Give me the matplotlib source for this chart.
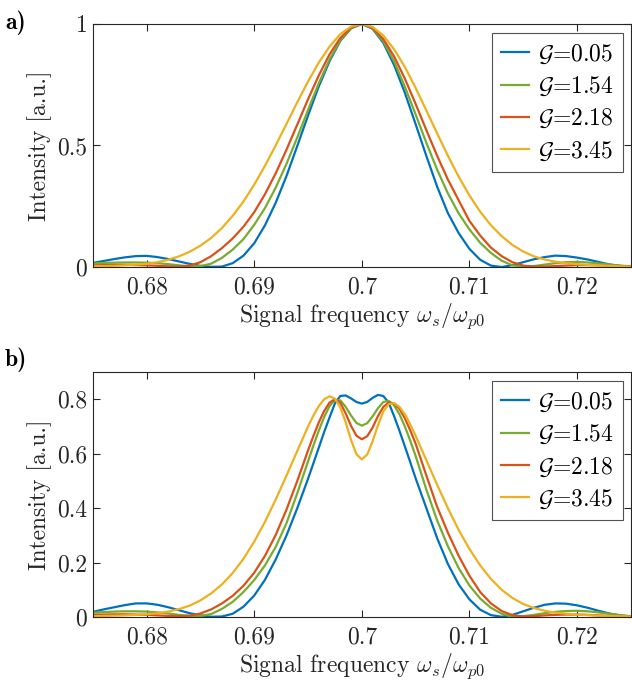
import numpy as np
import matplotlib
matplotlib.use("Agg")
import matplotlib.pyplot as plt

plt.rcParams['font.family'] = 'serif'
plt.rcParams['font.serif'] = ['cmr10']
plt.rcParams['mathtext.fontset'] = 'cm'
plt.rcParams['axes.unicode_minus'] = False

# legend labels and MATLAB default colours
gains = ['0.05', '1.54', '2.18', '3.45']
colors = ['#0072BD', '#77AC30', '#D95319', '#EDB120']

# panel a) frequency grid (omega_s / omega_p0)
freq_a = np.round(np.arange(0.675, 0.72501, 0.001), 4)

blue_a = [0.017, 0.025, 0.033, 0.040, 0.045, 0.046, 0.041, 0.033, 0.023, 0.013,
          0.005, 0.001, 0.002, 0.016, 0.047, 0.098, 0.172, 0.265, 0.375, 0.498,
          0.623, 0.743, 0.847, 0.930, 0.982, 1.0,
          0.980, 0.922, 0.831, 0.717, 0.588, 0.457, 0.331, 0.222, 0.140, 0.075,
          0.030, 0.006, 0.000, 0.008, 0.020, 0.032, 0.041, 0.047, 0.045, 0.039,
          0.031, 0.021, 0.011, 0.005, 0.001]
green_a = [0.015, 0.017, 0.018, 0.019, 0.019, 0.018, 0.016, 0.012, 0.007, 0.003,
           0.004, 0.014, 0.038, 0.072, 0.115, 0.174, 0.243, 0.327, 0.425, 0.533,
           0.646, 0.756, 0.854, 0.932, 0.983, 1.0,
           0.982, 0.928, 0.846, 0.742, 0.628, 0.511, 0.401, 0.303, 0.221, 0.155,
           0.100, 0.058, 0.026, 0.007, 0.001, 0.004, 0.010, 0.016, 0.020, 0.021,
           0.019, 0.015, 0.010, 0.006, 0.003]
red_a = [0.007, 0.008, 0.009, 0.009, 0.008, 0.007, 0.005, 0.003, 0.002, 0.006,
         0.020, 0.045, 0.078, 0.118, 0.166, 0.226, 0.300, 0.386, 0.483, 0.586,
         0.690, 0.788, 0.875, 0.942, 0.985, 1.0,
         0.984, 0.938, 0.866, 0.775, 0.671, 0.563, 0.458, 0.360, 0.275, 0.190,
         0.130, 0.080, 0.045, 0.020, 0.006, 0.002, 0.002, 0.004, 0.006, 0.008,
         0.008, 0.007, 0.005, 0.004, 0.003]
yellow_a = [0.003, 0.004, 0.005, 0.007, 0.010, 0.013, 0.020, 0.030, 0.044, 0.063,
            0.088, 0.120, 0.161, 0.211, 0.270, 0.339, 0.417, 0.501, 0.589, 0.678,
            0.763, 0.841, 0.907, 0.958, 0.989, 1.0,
            0.988, 0.952, 0.896, 0.823, 0.737, 0.644, 0.550, 0.458, 0.372, 0.295,
            0.228, 0.172, 0.127, 0.091, 0.064, 0.044, 0.031, 0.022, 0.016, 0.012,
            0.009, 0.007, 0.005, 0.003, 0.002]

# panel b) grid, finer around the central dip
freq_b = np.round(np.concatenate([np.arange(0.675, 0.6945, 0.001),
                                  np.arange(0.695, 0.70501, 0.0005),
                                  np.arange(0.706, 0.72501, 0.001)]), 5)

blue_b = [0.019, 0.028, 0.036, 0.044, 0.050, 0.050, 0.045, 0.036, 0.025, 0.014,
          0.006, 0.001, 0.002, 0.012, 0.038, 0.079, 0.137, 0.212, 0.300, 0.400,
          0.508, 0.565, 0.622, 0.680, 0.733, 0.785, 0.812, 0.814, 0.803, 0.790,
          0.784,
          0.790, 0.805, 0.816, 0.812, 0.787, 0.738, 0.684, 0.627, 0.569, 0.510,
          0.400, 0.290, 0.195, 0.120, 0.065, 0.027, 0.007, 0.001, 0.008, 0.021,
          0.034, 0.045, 0.050, 0.049, 0.043, 0.034, 0.023, 0.013, 0.006, 0.002]
green_b = [0.016, 0.018, 0.020, 0.021, 0.021, 0.020, 0.017, 0.013, 0.008, 0.004,
           0.004, 0.011, 0.030, 0.056, 0.092, 0.136, 0.190, 0.258, 0.345, 0.455,
           0.572, 0.630, 0.685, 0.735, 0.775, 0.798, 0.796, 0.772, 0.740, 0.713,
           0.703,
           0.712, 0.737, 0.767, 0.790, 0.794, 0.778, 0.745, 0.700, 0.648, 0.592,
           0.468, 0.355, 0.260, 0.180, 0.116, 0.068, 0.034, 0.012, 0.002, 0.003,
           0.008, 0.014, 0.019, 0.022, 0.023, 0.021, 0.017, 0.012, 0.007, 0.003]
red_b = [0.008, 0.009, 0.010, 0.010, 0.009, 0.008, 0.006, 0.004, 0.003, 0.005,
         0.013, 0.028, 0.050, 0.078, 0.115, 0.163, 0.225, 0.302, 0.395, 0.500,
         0.612, 0.665, 0.715, 0.757, 0.788, 0.800, 0.787, 0.748, 0.702, 0.666,
         0.653,
         0.664, 0.696, 0.738, 0.772, 0.788, 0.785, 0.765, 0.730, 0.686, 0.637,
         0.520, 0.405, 0.310, 0.225, 0.152, 0.092, 0.050, 0.022, 0.007, 0.002,
         0.003, 0.006, 0.008, 0.009, 0.009, 0.008, 0.006, 0.004, 0.003, 0.002]
yellow_b = [0.003, 0.004, 0.005, 0.006, 0.008, 0.010, 0.014, 0.020, 0.029, 0.042,
            0.061, 0.087, 0.120, 0.162, 0.214, 0.277, 0.350, 0.432, 0.520, 0.610,
            0.700, 0.740, 0.775, 0.800, 0.811, 0.802, 0.770, 0.715, 0.650, 0.598,
            0.579,
            0.597, 0.645, 0.705, 0.755, 0.782, 0.786, 0.772, 0.745, 0.708, 0.666,
            0.576, 0.486, 0.400, 0.320, 0.250, 0.190, 0.140, 0.100, 0.070, 0.048,
            0.033, 0.023, 0.016, 0.012, 0.009, 0.007, 0.005, 0.004, 0.003, 0.002]

x_ticks = [0.68, 0.69, 0.7, 0.71, 0.72]
x_ticklabels = ['0.68', '0.69', '0.7', '0.71', '0.72']
ya_ticks = [0, 0.5, 1]
ya_ticklabels = ['0', '0.5', '1']
yb_ticks = [0, 0.2, 0.4, 0.6, 0.8]
yb_ticklabels = ['0', '0.2', '0.4', '0.6', '0.8']

FS = 17
edge = '#262626'

fig = plt.figure(figsize=(6.32, 6.83), dpi=100)
ax_a = fig.add_axes([0.147, 0.609, 0.851, 0.356])
ax_b = fig.add_axes([0.147, 0.0966, 0.851, 0.3587])


def style_axes(ax, yticks, yticklabels, ylim):
    ax.set_xlim(0.675, 0.725)
    ax.set_ylim(*ylim)
    ax.set_xticks(x_ticks)
    ax.set_xticklabels(x_ticklabels, fontsize=FS)
    ax.set_yticks(yticks)
    ax.set_yticklabels(yticklabels, fontsize=FS)
    ax.tick_params(direction='in', top=True, right=True, length=5,
                   width=0.8, color=edge, labelcolor=edge)
    ax.tick_params(axis='x', pad=7)
    ax.tick_params(axis='y', pad=4)
    for s in ax.spines.values():
        s.set_color(edge)
        s.set_linewidth(0.8)
    ax.set_ylabel('Intensity [a.u.]', fontsize=FS, color=edge, labelpad=4)
    ax.set_xlabel(r'Signal frequency $\omega_s/\omega_{p0}$', fontsize=FS,
                  color=edge, labelpad=2)


series_a = [blue_a, green_a, red_a, yellow_a]
series_b = [blue_b, green_b, red_b, yellow_b]

for ax, xs, series in [(ax_a, freq_a, series_a), (ax_b, freq_b, series_b)]:
    for vals, c, g in zip(series, colors, gains):
        ax.plot(xs, vals, color=c, lw=1.6, label=r'$\mathcal{G}$=' + g)
    leg = ax.legend(loc='upper right', bbox_to_anchor=(0.985, 0.963),
                    fontsize=FS, frameon=True, fancybox=False,
                    handlelength=1.2, handletextpad=0.35, borderpad=0.4,
                    labelspacing=0.38, borderaxespad=0)
    leg.get_frame().set_edgecolor(edge)
    leg.get_frame().set_linewidth(0.8)

style_axes(ax_a, ya_ticks, ya_ticklabels, (0, 1))
style_axes(ax_b, yb_ticks, yb_ticklabels, (0, 0.9))

fig.text(0.008, 0.966, 'a)', fontsize=FS, family='cmb10', va='center')
fig.text(0.008, 0.473, 'b)', fontsize=FS, family='cmb10', va='center')

fig.savefig('out.png', dpi=100)
